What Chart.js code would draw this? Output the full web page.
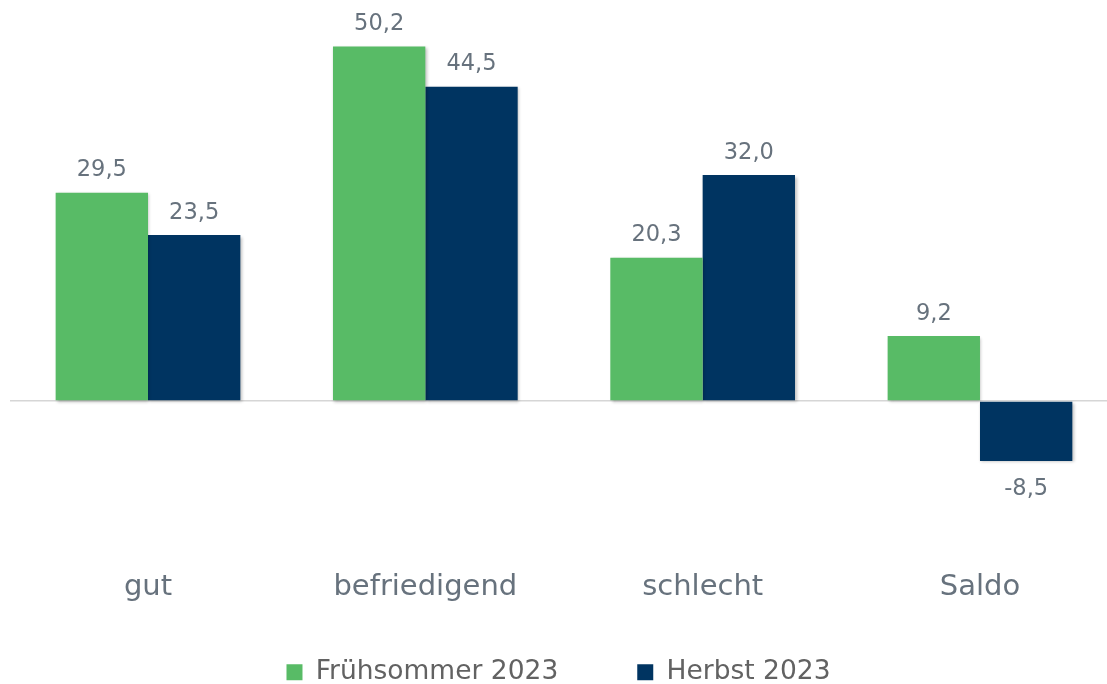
<!DOCTYPE html>
<html>
<head>
<meta charset="utf-8">
<script src="https://cdn.jsdelivr.net/npm/chart.js@4.4.1/dist/chart.umd.min.js"></script>
<style>
  html, body { margin: 0; padding: 0; background: #ffffff; }
  #wrap { width: 1107px; height: 684px; position: relative; }
</style>
</head>
<body>
<div id="wrap"><canvas id="c" width="1107" height="684"></canvas></div>
<script>
const categories = ['gut', 'befriedigend', 'schlecht', 'Saldo'];
const seriesNames = ['Frühsommer 2023', 'Herbst 2023'];
const fruehsommer = [29.5, 50.2, 20.3, 9.2];
const herbst = [23.5, 44.5, 32.0, -8.5];

const GREEN = '#58BB66';
const NAVY = '#003461';
const LABEL_COLOR = '#67727d';
const LEGEND_COLOR = '#626262';
const FONT = '"DejaVu Sans", sans-serif';

const toPoints = (arr) => arr.map((v, i) => ({ x: i, y: v }));
const fmt = (v) => v.toFixed(1).replace('.', ',');

const shadowPlugin = {
  id: 'barShadow',
  beforeDatasetDraw(chart) {
    const ctx = chart.ctx;
    ctx.save();
    ctx.shadowColor = 'rgba(0,0,0,0.25)';
    ctx.shadowBlur = 3;
    ctx.shadowOffsetX = 1.5;
    ctx.shadowOffsetY = 1.5;
  },
  afterDatasetDraw(chart) {
    chart.ctx.restore();
  }
};

const valueLabels = {
  id: 'valueLabels',
  afterDatasetsDraw(chart) {
    const ctx = chart.ctx;
    ctx.save();
    ctx.font = '22.5px ' + FONT;
    ctx.fillStyle = LABEL_COLOR;
    ctx.textAlign = 'center';
    ctx.textBaseline = 'alphabetic';
    chart.data.datasets.forEach((ds, di) => {
      const meta = chart.getDatasetMeta(di);
      meta.data.forEach((bar, i) => {
        const v = ds.data[i].y;
        const p = bar.getProps(['x', 'y', 'base'], true);
        if (v >= 0) {
          ctx.fillText(fmt(v), p.x, p.y - 16.5);
        } else {
          ctx.fillText(fmt(v), p.x, p.y + 34);
        }
      });
    });
    ctx.restore();
  }
};

new Chart(document.getElementById('c'), {
  type: 'bar',
  data: {
    datasets: [
      { label: seriesNames[0], data: toPoints(fruehsommer), backgroundColor: GREEN, borderWidth: 0 },
      { label: seriesNames[1], data: toPoints(herbst), backgroundColor: NAVY, borderWidth: 0 }
    ]
  },
  options: {
    responsive: false,
    animation: false,
    devicePixelRatio: 1,
    layout: { padding: { left: 10, right: 0, top: 0, bottom: 0 } },
    datasets: { bar: { barPercentage: 1.0, categoryPercentage: 0.666 } },
    scales: {
      x: {
        type: 'linear',
        offset: false,
        min: -0.4976,
        max: 3.458,
        grid: { display: false, offset: false },
        border: { display: false },
        afterBuildTicks: (scale) => { scale.ticks = categories.map((_, i) => ({ value: i })); },
        afterFit: (scale) => { scale.height = 41; },
        ticks: {
          autoSkip: false,
          maxRotation: 0,
          mirror: true,
          padding: -66,
          color: LABEL_COLOR,
          font: { family: FONT, size: 29 },
          callback: (v) => categories[v]
        }
      },
      y: {
        min: -19.55,
        max: 56.8,
        border: { display: false },
        ticks: { display: false, stepSize: 10 },
        grid: {
          drawTicks: false,
          lineWidth: 1.5,
          color: (ctx) => (ctx.tick && ctx.tick.value === 0 ? '#d6d6d6' : 'rgba(0,0,0,0)')
        }
      }
    },
    plugins: {
      tooltip: { enabled: false },
      legend: {
        position: 'bottom',
        maxHeight: 104,
        labels: {
          boxWidth: 16,
          boxHeight: 16,
          padding: 79,
          color: LEGEND_COLOR,
          font: { family: FONT, size: 26.5 }
        }
      }
    }
  },
  plugins: [shadowPlugin, valueLabels]
});
</script>
</body>
</html>
